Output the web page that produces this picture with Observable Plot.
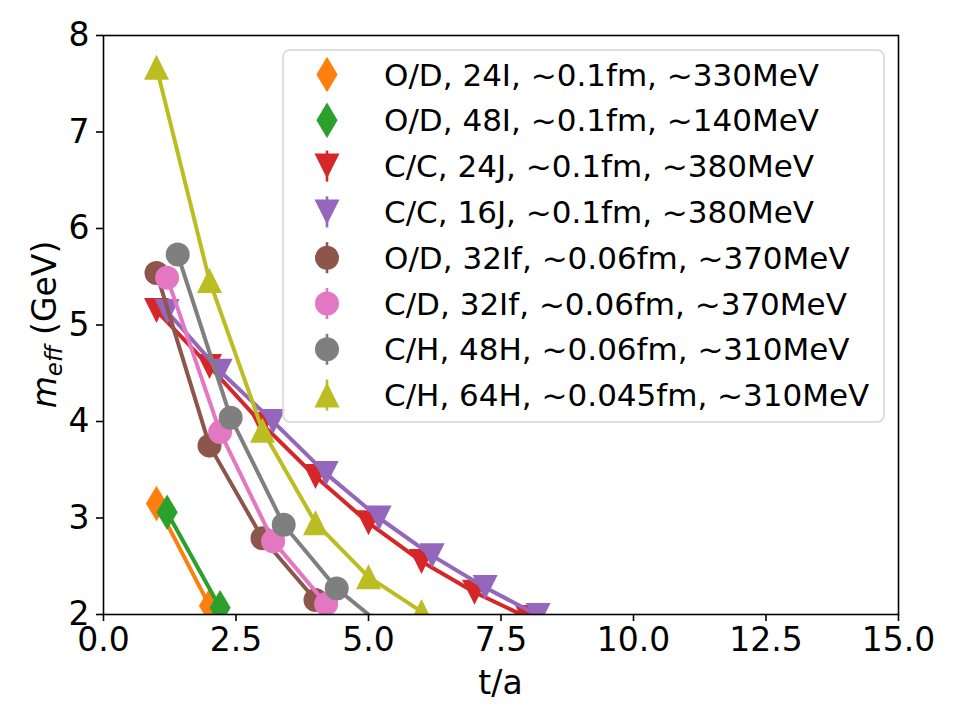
<!DOCTYPE html>
<html>
<head>
<meta charset="utf-8">
<script src="https://cdn.jsdelivr.net/npm/d3@7"></script>
<script src="https://cdn.jsdelivr.net/npm/@observablehq/plot@0.6"></script>
<style>
  html, body { margin: 0; padding: 0; background: #fff; }
  #chart svg { display: block; }
  #chart g[aria-label="x-axis tick"] path,
  #chart g[aria-label="y-axis tick"] path { stroke-width: 1.6; }
</style>
</head>
<body>
<div id="chart"></div>
<script>
// Effective mass m_eff versus time slice t/a for each ensemble.
const tOD24I = [1, 2];
const mOD24I = [3.15, 2.09];

const tOD48I = [1.2, 2.2];
const mOD48I = [3.06, 2.07];

const tCC24J = [1, 2, 3, 4, 5, 6, 7, 8];
const mCC24J = [5.15, 4.57, 3.97, 3.43, 2.95, 2.55, 2.23, 1.97];

const tCC16J = [1.2, 2.2, 3.2, 4.2, 5.2, 6.2, 7.2, 8.2];
const mCC16J = [5.14, 4.52, 4.00, 3.46, 3.00, 2.61, 2.28, 1.99];

const tOD32If = [1, 2, 3, 4];
const mOD32If = [5.54, 3.75, 2.79, 2.15];

const tCD32If = [1.2, 2.2, 3.2, 4.2];
const mCD32If = [5.49, 3.89, 2.76, 2.11];

const tCH48H = [1.4, 2.4, 3.4, 4.4, 5.4];
const mCH48H = [5.73, 4.04, 2.93, 2.27, 1.82];

const tCH64H = [1, 2, 3, 4, 5, 6];
const mCH64H = [7.67, 5.46, 3.91, 2.95, 2.39, 2.03];

const seriesLabels = [
  "O/D, 24I, ~0.1fm, ~330MeV",
  "O/D, 48I, ~0.1fm, ~140MeV",
  "C/C, 24J, ~0.1fm, ~380MeV",
  "C/C, 16J, ~0.1fm, ~380MeV",
  "O/D, 32If, ~0.06fm, ~370MeV",
  "C/D, 32If, ~0.06fm, ~370MeV",
  "C/H, 48H, ~0.06fm, ~310MeV",
  "C/H, 64H, ~0.045fm, ~310MeV"
];

const xTicks = [0, 2.5, 5, 7.5, 10, 12.5, 15];
const yTicks = [2, 3, 4, 5, 6, 7, 8];

// styling
const seriesColors = ["#ff7f0e", "#2ca02c", "#d62728", "#9467bd", "#8c564b", "#e377c2", "#7f7f7f", "#bcbd22"];
const seriesMarkers = ["thinDiamond", "thinDiamond", "triangleDown", "triangleDown", "circle", "circle", "circle", "triangleUp"];

// marker shapes; s is the half-size of the marker
const shapes = {
  thinDiamond(ctx, s) {
    const h = s * Math.SQRT2, w = 0.6 * h;
    ctx.moveTo(0, -h); ctx.lineTo(w, 0); ctx.lineTo(0, h); ctx.lineTo(-w, 0); ctx.closePath();
  },
  triangleDown(ctx, s) {
    ctx.moveTo(0, s); ctx.lineTo(-s, -s); ctx.lineTo(s, -s); ctx.closePath();
  },
  triangleUp(ctx, s) {
    ctx.moveTo(0, -s); ctx.lineTo(s, s); ctx.lineTo(-s, s); ctx.closePath();
  },
  circle(ctx, s) {
    const r = s * 0.96;
    ctx.moveTo(r, 0); ctx.arc(0, 0, r, 0, 2 * Math.PI);
  }
};
const symbolOf = (name) => ({ draw(ctx, size) { shapes[name](ctx, Math.sqrt(size / Math.PI)); } });

const seriesT = [tOD24I, tOD48I, tCC24J, tCC16J, tOD32If, tCD32If, tCH48H, tCH64H];
const seriesM = [mOD24I, mOD48I, mCC24J, mCC16J, mOD32If, mCD32If, mCH48H, mCH64H];

const marks = [];
seriesT.forEach((ts, i) => {
  const rows = ts.map((t, j) => ({ t, m: seriesM[i][j] }));
  marks.push(Plot.line(rows, { x: "t", y: "m", stroke: seriesColors[i], strokeWidth: 4, clip: true }));
  marks.push(Plot.dot(rows, { x: "t", y: "m", fill: seriesColors[i], r: 12.5, symbol: symbolOf(seriesMarkers[i]), clip: true }));
});
marks.push(Plot.frame({ stroke: "black", strokeWidth: 1.6 }));

const W = 960, H = 720;
const chart = Plot.plot({
  width: W,
  height: H,
  marginTop: 35,
  marginRight: 62,
  marginBottom: 106,
  marginLeft: 103,
  style: { fontFamily: "DejaVu Sans", fontSize: "33px", color: "black", background: "white" },
  x: { domain: [0, 15], ticks: xTicks, tickFormat: d3.format(".1f"), tickSize: 7, tickPadding: 6, label: null },
  y: { domain: [2, 8], ticks: yTicks, tickFormat: d3.format("d"), tickSize: 7, tickPadding: 7, label: null },
  marks
});
document.getElementById("chart").appendChild(chart);

// axis titles and legend
const svg = d3.select(chart);
const font = "DejaVu Sans";

svg.append("text")
  .attr("x", (103 + (W - 62)) / 2).attr("y", 694)
  .attr("text-anchor", "middle")
  .attr("font-family", font).attr("font-size", 33).attr("fill", "black")
  .text("t/a");

const yl = svg.append("text")
  .attr("transform", `translate(56,${(35 + (H - 106)) / 2}) rotate(-90)`)
  .attr("text-anchor", "middle")
  .attr("font-family", font).attr("font-size", 33).attr("fill", "black");
yl.append("tspan").attr("font-style", "italic").text("m");
yl.append("tspan").attr("font-style", "italic").attr("font-size", 23).attr("dy", 6).text("eff");
yl.append("tspan").attr("dy", -6).text(" (GeV)");

const lg = svg.append("g").attr("transform", "translate(283,50)");
lg.append("rect")
  .attr("width", 601).attr("height", 372).attr("rx", 7)
  .attr("fill", "white").attr("fill-opacity", 0.8)
  .attr("stroke", "#d4d4d4").attr("stroke-width", 1.5);
seriesLabels.forEach((label, i) => {
  const cy = 24.5 + i * 45.8;
  const row = lg.append("g").attr("transform", `translate(44,${cy})`);
  row.append("line").attr("y1", -15.5).attr("y2", 15.5)
    .attr("stroke", seriesColors[i]).attr("stroke-width", 2.6);
  const p = d3.path();
  shapes[seriesMarkers[i]](p, 12.5);
  row.append("path").attr("d", p.toString()).attr("fill", seriesColors[i]);
  lg.append("text")
    .attr("x", 101).attr("y", cy + 11)
    .attr("text-anchor", "start")
    .attr("font-family", font).attr("font-size", 31).attr("fill", "black")
    .text(label);
});
</script>
</body>
</html>
